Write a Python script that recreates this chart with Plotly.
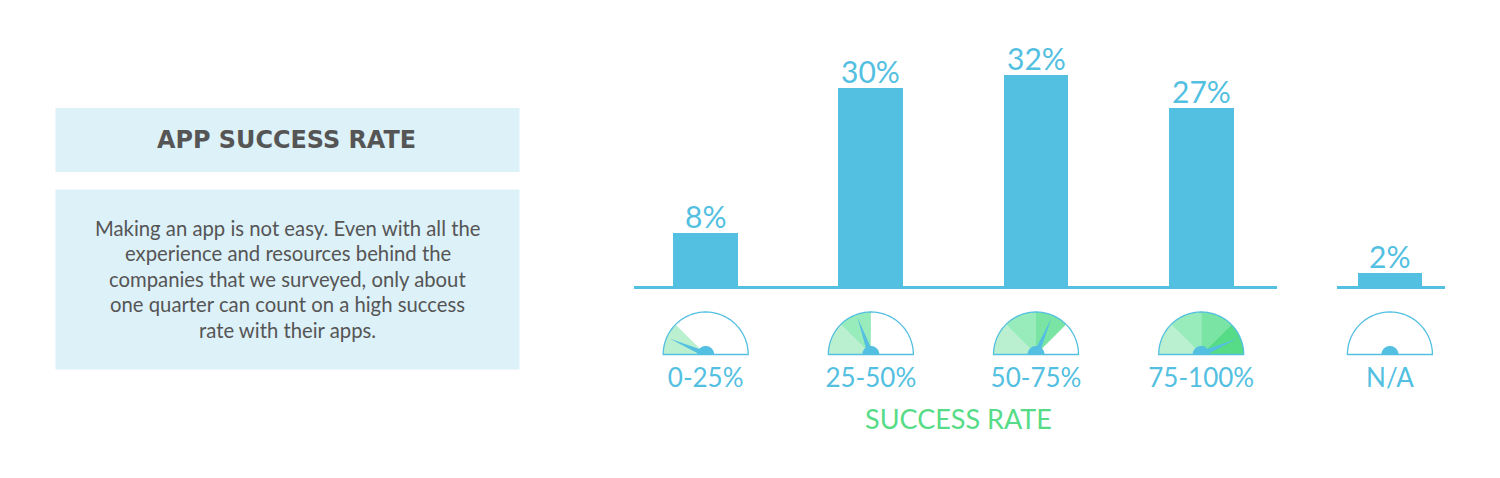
import numpy as np
import plotly.graph_objects as go

# ---- data ----
categories = ["0-25%", "25-50%", "50-75%", "75-100%"]
values = [8, 30, 32, 27]
na_category = ["N/A"]
na_values = [2]
# gauge content: how many green sectors are filled and where the needle points (deg, 0=right)
gauge_filled = [1, 2, 3, 4, 0]
gauge_needle = [156, 110, 67, 24, None]
title_text = "APP SUCCESS RATE"
body_lines = [
    "Making an app is not easy. Even with all the",
    "experience and resources behind the",
    "companies that we surveyed, only about",
    "one quarter can count on a high success",
    "rate with their apps.",
]
axis_title = "SUCCESS RATE"

# ---- style ----
W, H = 1500, 478
BLUE = "#53BFE1"
GREENS = ["#BAF0D0", "#98EBBB", "#79E4A3", "#56DC87"]
PANEL = "#DDF1F9"
DARK = "#555555"
FONT = "Lato, sans-serif"
R, HUB = 42.5, 8.5
GAUGE_BASE = H - 354.5  # px above the figure bottom


def px_x(v):
    return v / W


def px_y(v):
    return 1 - v / H


def arc_pts(a0, a1, r, n=40):
    t = np.radians(np.linspace(a0, a1, n))
    return r * np.cos(t), r * np.sin(t)


def path_from(xs, ys, close=True):
    s = "M" + " L".join(f"{x:.2f},{y + GAUGE_BASE:.2f}" for x, y in zip(xs, ys))
    return s + (" Z" if close else "")


def gauge_shapes(xref, anchor, filled, needle):
    common = dict(type="path", xref=xref, yref="paper", xsizemode="pixel",
                  ysizemode="pixel", xanchor=anchor, yanchor=0)
    out = []
    for i in range(filled):
        a0, a1 = 180 - 45 * i, 135 - 45 * i
        xs, ys = arc_pts(a0, a1, R)
        xs, ys = np.r_[0, xs], np.r_[0, ys]
        out.append(dict(common, path=path_from(xs, ys), fillcolor=GREENS[i], line_width=0))
    xs, ys = arc_pts(180, 0, R, 80)
    out.append(dict(common, path=path_from(xs, ys), fillcolor="rgba(0,0,0,0)",
                    line=dict(color=BLUE, width=1.3)))
    if needle is not None:
        t = np.radians(needle)
        n = np.array([-np.sin(t), np.cos(t)])
        tip = 39.0 * np.array([np.cos(t), np.sin(t)])
        base = 5.0 * np.array([np.cos(t), np.sin(t)])
        pts = np.array([tip, base + 2.6 * n, base - 2.6 * n])
        out.append(dict(common, path=path_from(pts[:, 0], np.maximum(pts[:, 1], 0)),
                        fillcolor=BLUE, line_width=0))
    xs, ys = arc_pts(180, 0, HUB)
    out.append(dict(common, path=path_from(xs, ys), fillcolor=BLUE, line_width=0))
    return out


shapes = [
    dict(type="rect", xref="paper", yref="paper", x0=px_x(55.5), x1=px_x(519.5),
         y0=px_y(172), y1=px_y(108), fillcolor=PANEL, line_width=0, layer="below"),
    dict(type="rect", xref="paper", yref="paper", x0=px_x(55.5), x1=px_x(519.5),
         y0=px_y(369.5), y1=px_y(189.5), fillcolor=PANEL, line_width=0, layer="below"),
]
for i, c in enumerate(categories):
    shapes += gauge_shapes("x", c, gauge_filled[i], gauge_needle[i])
shapes += gauge_shapes("x2", na_category[0], gauge_filled[4], gauge_needle[4])

fig = go.Figure()
bar_style = dict(marker=dict(color=BLUE, line_width=0), hoverinfo="skip", showlegend=False)
fig.add_trace(go.Bar(x=categories, y=values, width=0.393, xaxis="x", yaxis="y", **bar_style))
fig.add_trace(go.Bar(x=na_category, y=na_values, width=0.6, xaxis="x2", yaxis="y", **bar_style))

xax = dict(type="category", showline=True, linecolor=BLUE, linewidth=3, showgrid=False, zeroline=False,
           ticks="", tickfont=dict(family=FONT, size=26, color=BLUE), ticklabelstandoff=67, anchor="y")
annotations = [
    dict(text=f"<b>{title_text}</b>", xref="paper", yref="paper", x=px_x(286.5), y=px_y(140),
         showarrow=False, xanchor="center", yanchor="middle",
         font=dict(family="DejaVu Sans", size=23.9, color=DARK)),
    dict(text=axis_title, xref="paper", yref="paper", x=px_x(958), y=px_y(418),
         showarrow=False, xanchor="center", yanchor="middle",
         font=dict(family=FONT, size=27, color="#56DC87")),
]
for i, line in enumerate(body_lines):
    annotations.append(dict(text=line, xref="paper", yref="paper", x=px_x(287.5), y=px_y(227.5 + 25.5 * i),
                            showarrow=False, xanchor="center", yanchor="middle",
                            font=dict(family=FONT, size=20.3, color=DARK)))
label_style = dict(yref="y", showarrow=False, xanchor="center", yanchor="middle", yshift=17,
                   font=dict(family=FONT, size=30, color=BLUE))
for c, v in zip(categories, values):
    annotations.append(dict(label_style, xref="x", x=c, y=v, text=f"{v}%"))
for c, v in zip(na_category, na_values):
    annotations.append(dict(label_style, xref="x2", x=c, y=v, text=f"{v}%"))

fig.update_layout(
    width=W, height=H, autosize=False, margin=dict(l=0, r=0, t=0, b=0),
    paper_bgcolor="white", plot_bgcolor="rgba(0,0,0,0)", bargap=0,
    xaxis=dict(xax, domain=[px_x(634), px_x(1277)], range=[-0.434, 3.459],
               categoryorder="array", categoryarray=categories),
    xaxis2=dict(xax, domain=[px_x(1337), px_x(1445)], range=[-0.49, 0.51],
                categoryorder="array", categoryarray=na_category),
    yaxis=dict(domain=[px_y(286), px_y(40)], range=[0, 37.27], visible=False),
    shapes=shapes, annotations=annotations,
)
fig.write_html("out.html", post_script="document.body.style.margin='0';document.body.style.overflow='hidden';",
               config=dict(displayModeBar=False))
